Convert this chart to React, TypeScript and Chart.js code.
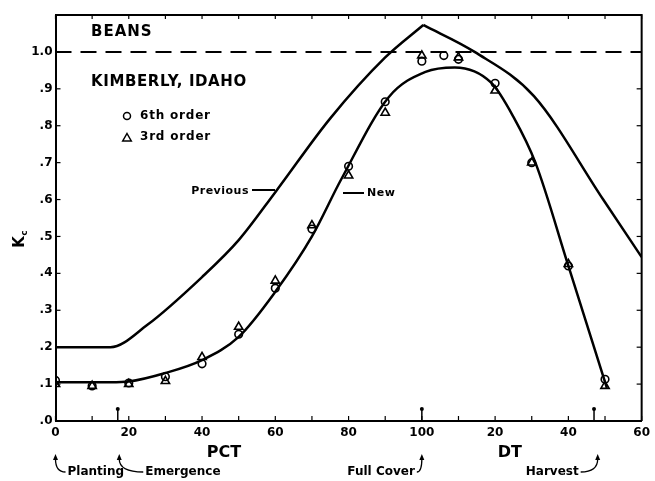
import React, { useEffect, useRef } from 'react';
import { Chart, registerables } from 'chart.js';

Chart.register(...registerables);

// ---- data ----
const prevRiseX = [0, 15, 25, 40, 50, 60, 75, 90, 100.4];
const prevRiseY = [0.2, 0.2, 0.26, 0.39, 0.49, 0.62, 0.82, 0.985, 1.073];
const prevFallX = [100.4, 114.4, 130.6, 149.5, 160];
const prevFallY = [1.073, 1.0, 0.88, 0.6, 0.444];

const newX = [0, 15, 20, 30, 40, 50, 60, 70, 78, 91, 101, 109, 119, 125, 131, 140, 150.5];
const newY = [0.105, 0.105, 0.107, 0.13, 0.165, 0.228, 0.35, 0.5, 0.655, 0.878, 0.946, 0.958, 0.916, 0.824, 0.7, 0.42, 0.09];

const sixthX = [0, 10, 20, 30, 40, 50, 60, 70, 80, 90, 100, 106, 110, 120, 130, 140, 150];
const sixthY = [0.11, 0.095, 0.103, 0.12, 0.155, 0.235, 0.36, 0.52, 0.69, 0.865, 0.975, 0.99, 0.98, 0.915, 0.7, 0.42, 0.113];
const thirdX = [0, 10, 20, 30, 40, 50, 60, 70, 80, 90, 100, 110, 120, 130, 140, 150];
const thirdY = [0.1, 0.095, 0.1, 0.108, 0.173, 0.255, 0.38, 0.53, 0.665, 0.835, 0.99, 0.985, 0.895, 0.7, 0.425, 0.095];

const refX = [0, 160];
const refY = [1.0, 1.0];

const xTickLabels = ['0', '20', '40', '60', '80', '100', '20', '40', '60'];
const yTickLabels = ['.0', '.1', '.2', '.3', '.4', '.5', '.6', '.7', '.8', '.9', '1.0'];

const axisMarkX = [17, 100, 147];
const eventLabels = ['Planting', 'Emergence', 'Full Cover', 'Harvest'];
const eventX = [0, 17.4, 100, 148];
const phaseLabels = ['PCT', 'DT'];
const phaseX = [46, 124];

const titleText = 'BEANS';
const siteText = 'KIMBERLY, IDAHO';
const legendLabels = ['6th order', '3rd order'];
const curveLabels = ['Previous', 'New'];

const zip = (xs: number[], ys: number[]) => xs.map((x, i) => ({ x, y: ys[i] }));

const FONT = '"DejaVu Sans", "Liberation Sans", sans-serif';

function drawTri(ctx: CanvasRenderingContext2D, cx: number, cy: number, r: number) {
  ctx.beginPath();
  ctx.moveTo(cx, cy - r);
  ctx.lineTo(cx + r * 0.95, cy + r * 0.65);
  ctx.lineTo(cx - r * 0.95, cy + r * 0.65);
  ctx.closePath();
  ctx.stroke();
}

const decor = {
  id: 'decor',
  afterDraw(chart: any) {
    const { ctx, chartArea: a, scales } = chart;
    const x = scales.x;
    const y = scales.y;
    const line = (x1: number, y1: number, x2: number, y2: number) => {
      ctx.beginPath();
      ctx.moveTo(x1, y1);
      ctx.lineTo(x2, y2);
      ctx.stroke();
    };
    ctx.save();
    ctx.strokeStyle = '#000';
    ctx.fillStyle = '#000';
    ctx.setLineDash([]);

    // frame top + right
    ctx.lineWidth = 2;
    ctx.beginPath();
    ctx.moveTo(a.left, a.top);
    ctx.lineTo(a.right, a.top);
    ctx.lineTo(a.right, a.bottom);
    ctx.stroke();

    // inner ticks
    ctx.lineWidth = 1.2;
    for (let v = 0; v <= 160; v += 10) {
      const px = x.getPixelForValue(v);
      line(px, a.bottom, px, a.bottom - 5);
      line(px, a.top, px, a.top + 4);
    }
    for (let i = 0; i <= 11; i++) {
      const py = y.getPixelForValue(i / 10);
      line(a.left, py, a.left + 5, py);
      line(a.right, py, a.right - 5, py);
    }

    // stage marks on the axis
    ctx.lineWidth = 1.5;
    for (const v of axisMarkX) {
      const px = x.getPixelForValue(v);
      line(px, a.bottom, px, a.bottom - 12);
      ctx.beginPath();
      ctx.arc(px, a.bottom - 12, 2, 0, Math.PI * 2);
      ctx.fill();
    }

    // phase labels
    ctx.font = `bold 16px ${FONT}`;
    ctx.textAlign = 'center';
    ctx.textBaseline = 'middle';
    phaseLabels.forEach((t, i) => ctx.fillText(t, x.getPixelForValue(phaseX[i]), 453));

    // event labels with curved arrows
    ctx.font = `bold 12px ${FONT}`;
    ctx.lineWidth = 1.3;
    const ty = 472;
    const tipY = 457;
    const arrowHead = (px: number) => {
      ctx.beginPath();
      ctx.moveTo(px, tipY - 3);
      ctx.lineTo(px + 2.5, tipY + 3);
      ctx.lineTo(px - 2.5, tipY + 3);
      ctx.closePath();
      ctx.fill();
    };
    eventLabels.forEach((t, i) => {
      const px = x.getPixelForValue(eventX[i]);
      let tx: number, ex: number;
      if (i < 2) {
        tx = px + (i === 0 ? 12 : 26);
        ctx.textAlign = 'left';
        ex = tx - 2;
      } else {
        tx = px - (i === 2 ? 7 : 19);
        ctx.textAlign = 'right';
        ex = tx + 2;
      }
      ctx.fillText(t, tx, ty);
      ctx.beginPath();
      ctx.moveTo(ex, ty);
      ctx.quadraticCurveTo(px, ty, px, tipY + 2);
      ctx.stroke();
      arrowHead(px);
    });

    // Kc axis title
    ctx.save();
    ctx.translate(20, 242);
    ctx.rotate(-Math.PI / 2);
    ctx.textAlign = 'center';
    ctx.textBaseline = 'middle';
    ctx.font = `bold 15px ${FONT}`;
    ctx.fillText('K', 0, 0);
    ctx.font = `bold 9px ${FONT}`;
    ctx.fillText('c', 9, 5);
    ctx.restore();

    // titles
    ctx.textAlign = 'left';
    ctx.textBaseline = 'middle';
    ctx.font = `bold 15px ${FONT}`;
    (ctx as any).letterSpacing = '1px';
    ctx.fillText(titleText, 91, 32);
    (ctx as any).letterSpacing = '0.6px';
    ctx.fillText(siteText, 91, 82);

    // legend
    ctx.font = `bold 12px ${FONT}`;
    (ctx as any).letterSpacing = '0.8px';
    ctx.lineWidth = 1.5;
    ctx.beginPath();
    ctx.arc(127, 116, 3.5, 0, Math.PI * 2);
    ctx.stroke();
    ctx.fillText(legendLabels[0], 140, 116);
    drawTri(ctx, 127, 138, 4.5);
    ctx.fillText(legendLabels[1], 140, 137);

    // curve labels
    ctx.font = `bold 11px ${FONT}`;
    (ctx as any).letterSpacing = '0.5px';
    ctx.lineWidth = 2;
    ctx.textAlign = 'right';
    ctx.fillText(curveLabels[0], 249, 191);
    line(252, 190, 275, 190);
    ctx.textAlign = 'left';
    line(343, 193, 364, 193);
    ctx.fillText(curveLabels[1], 367, 193);
    (ctx as any).letterSpacing = '0px';

    ctx.restore();
  },
};

export default function App() {
  const ref = useRef<HTMLCanvasElement | null>(null);

  useEffect(() => {
    if (!ref.current) return;
    const curve = (data: any[], extra: any = {}) => ({
      type: 'line',
      data,
      showLine: true,
      borderColor: '#000',
      borderWidth: 2.5,
      pointRadius: 0,
      fill: false,
      cubicInterpolationMode: 'monotone',
      ...extra,
    });
    const chart = new Chart(ref.current, {
      type: 'scatter',
      data: {
        datasets: [
          curve(zip(prevRiseX, prevRiseY)),
          curve(zip(prevFallX, prevFallY)),
          curve(zip(newX, newY)),
          curve(zip(refX, refY), { borderWidth: 2, borderDash: [16, 9], cubicInterpolationMode: 'default' }),
          {
            data: zip(sixthX, sixthY),
            pointStyle: 'circle',
            pointRadius: 3.8,
            borderColor: '#000',
            borderWidth: 1.6,
            backgroundColor: 'rgba(0,0,0,0)',
          },
          {
            data: zip(thirdX, thirdY),
            pointStyle: 'triangle',
            pointRadius: 4.8,
            borderColor: '#000',
            borderWidth: 1.6,
            backgroundColor: 'rgba(0,0,0,0)',
          },
        ] as any,
      },
      options: {
        animation: false,
        responsive: false,
        devicePixelRatio: 1,
        layout: { padding: { top: 15, right: 8, left: 0, bottom: 0 } },
        plugins: { legend: { display: false }, tooltip: { enabled: false } },
        scales: {
          x: {
            type: 'linear',
            min: 0,
            max: 160,
            grid: { display: false, drawTicks: false },
            border: { display: true, color: '#000', width: 2 },
            ticks: {
              stepSize: 10,
              autoSkip: false,
              maxRotation: 0,
              padding: 5,
              color: '#000',
              font: { family: FONT, weight: 'bold', size: 12 },
              callback: (v: any) => {
                const i = Math.round(Number(v));
                return i % 20 === 0 ? xTickLabels[i / 20] : '';
              },
            },
            afterFit: (s: any) => {
              s.height = 60;
            },
          },
          y: {
            type: 'linear',
            min: 0,
            max: 1.1,
            grid: { display: false, drawTicks: false },
            border: { display: true, color: '#000', width: 2 },
            ticks: {
              stepSize: 0.1,
              autoSkip: false,
              padding: 3,
              color: '#000',
              font: { family: FONT, weight: 'bold', size: 12 },
              callback: (v: any) => {
                const i = Math.round(Number(v) * 10);
                return i <= 10 ? yTickLabels[i] : '';
              },
            },
            afterFit: (s: any) => {
              s.width = 55.5;
            },
          },
        },
      } as any,
      plugins: [decor as any],
    });
    return () => chart.destroy();
  }, []);

  return (
    <div style={{ position: 'absolute', left: 0, top: 0, width: 655, height: 481, background: '#fff' }}>
      <canvas ref={ref} width={655} height={481} />
    </div>
  );
}
